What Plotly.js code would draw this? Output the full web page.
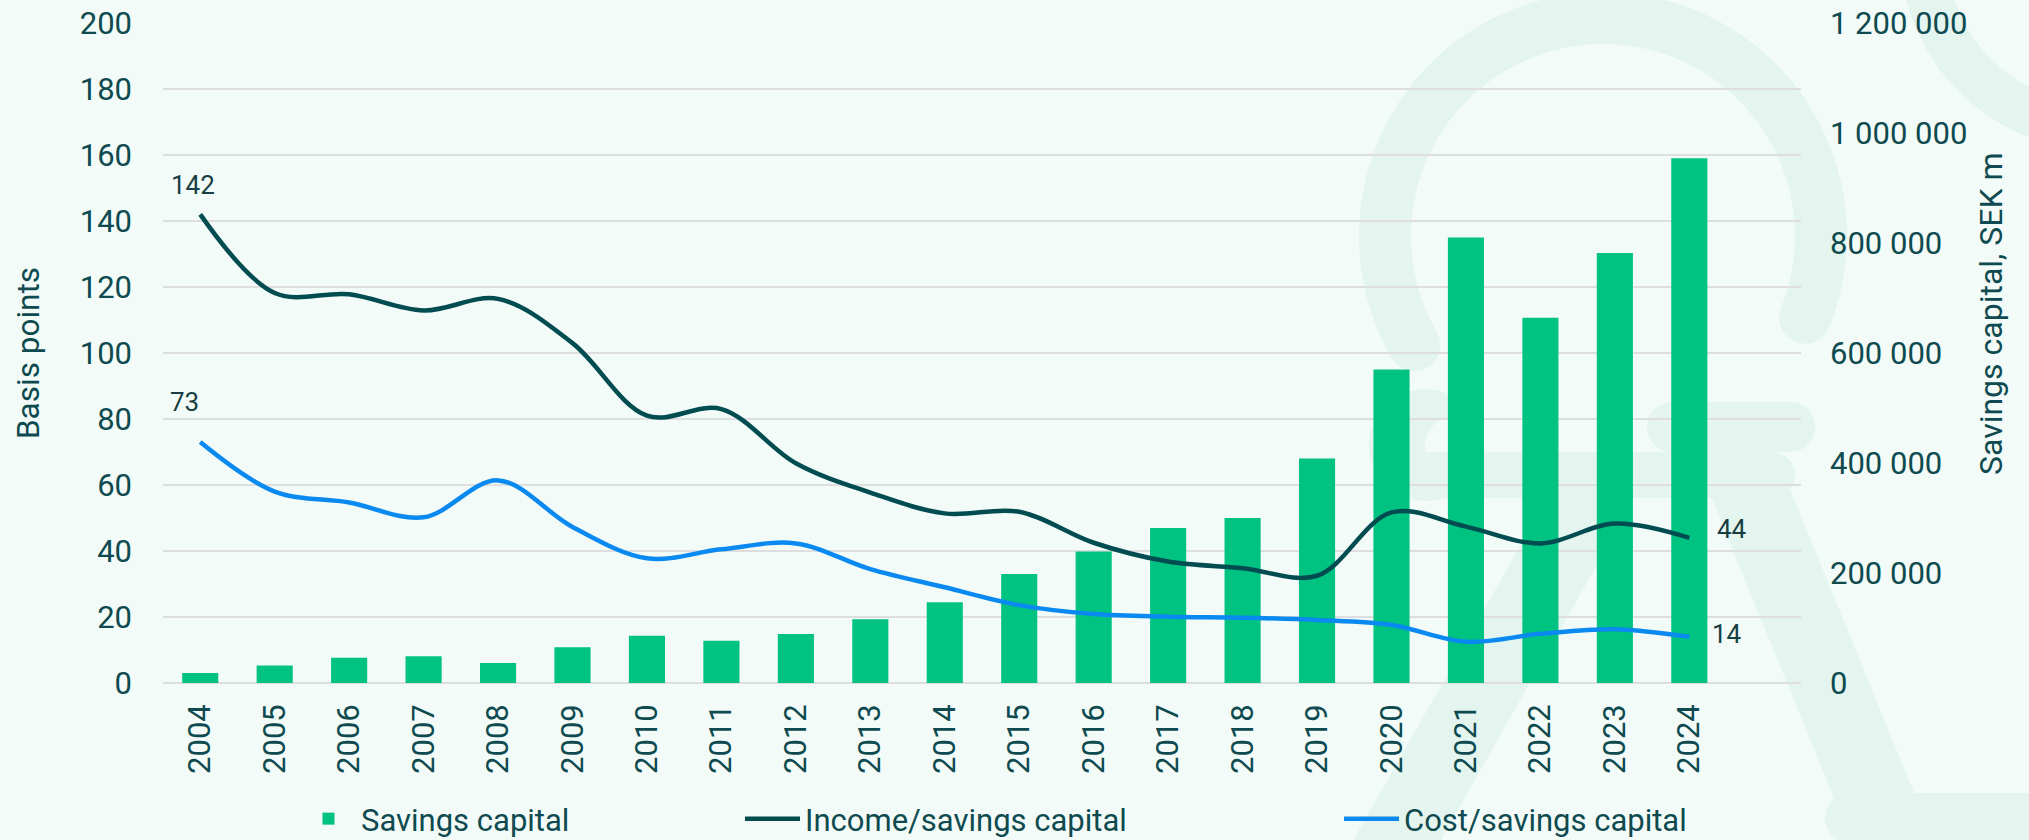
<!DOCTYPE html>
<html>
<head>
<meta charset="utf-8">
<script src="https://cdn.plot.ly/plotly-3.0.1.min.js"></script>
<style>
html,body{margin:0;padding:0;background:#f2fbf7;}
#chart{width:2029px;height:840px;}
</style>
</head>
<body>
<div id="chart"></div>
<script>
// ---- data ----
const years = ['2004','2005','2006','2007','2008','2009','2010','2011','2012','2013','2014',
               '2015','2016','2017','2018','2019','2020','2021','2022','2023','2024'];
const savingsCapital = [18000, 32000, 46000, 48500, 36500, 65000, 86000, 77000, 89000, 116000, 147000,
                        198000, 239000, 282000, 300000, 408000, 570000, 810000, 664000, 782000, 954000];
const incomeRatio = [142, 118.2, 117.8, 112.9, 116.4, 103, 81, 83, 66.6, 57.7, 51.4,
                     51.9, 42.5, 36.8, 34.8, 32.5, 51.7, 47.4, 42.3, 48.3, 44];
const costRatio = [73, 58, 54.7, 50.2, 61.4, 47.3, 37.8, 40.5, 42.3, 34.5, 29,
                   23.6, 20.9, 20.1, 19.8, 19.1, 17.6, 12.5, 14.9, 16.3, 14];
const leftTicks = [0, 20, 40, 60, 80, 100, 120, 140, 160, 180, 200];
const rightTicks = [0, 200000, 400000, 600000, 800000, 1000000, 1200000];
const seriesNames = ['Savings capital', 'Income/savings capital', 'Cost/savings capital'];
const leftTitle = 'Basis points';
const rightTitle = 'Savings capital, SEK m';

// ---- style ----
const FONT = 'Roboto, "Open Sans", sans-serif';
const TXT = '#0e4a4f';
const BG = '#f2fbf7';
const DECO = '#e3f5ee';

// plot area in pixels (for background decoration only)
const L = 163, R = 1801, T = 23, B = 683;
const W = R - L, H = B - T;
function pp(x, y) { return ((x - L) / W).toFixed(5) + ',' + ((B - y) / H).toFixed(5); }
function rad(d) { return d * Math.PI / 180; }
function thickArc(cx, cy, rIn, rOut, a0, a1) {
  const pts = [];
  const hw = (rOut - rIn) / 2, rm = (rIn + rOut) / 2;
  const n = 60;
  for (let i = 0; i <= n; i++) { const a = rad(a0 + (a1 - a0) * i / n); pts.push([cx + rOut * Math.cos(a), cy + rOut * Math.sin(a)]); }
  const e = rad(a1), ec = [cx + rm * Math.cos(e), cy + rm * Math.sin(e)];
  for (let s = 0; s <= 180; s += 10) { const f = e + rad(s); pts.push([ec[0] + hw * Math.cos(f), ec[1] + hw * Math.sin(f)]); }
  for (let i = n; i >= 0; i--) { const a = rad(a0 + (a1 - a0) * i / n); pts.push([cx + rIn * Math.cos(a), cy + rIn * Math.sin(a)]); }
  const b = rad(a0), bc = [cx + rm * Math.cos(b), cy + rm * Math.sin(b)];
  for (let s = 0; s <= 180; s += 10) { const f = b + Math.PI + rad(s); pts.push([bc[0] + hw * Math.cos(f), bc[1] + hw * Math.sin(f)]); }
  return 'M' + pts.map(p => pp(p[0], p[1])).join('L') + 'Z';
}
function thickLine(x0, y0, x1, y1, hw) {
  const ang = Math.atan2(y1 - y0, x1 - x0);
  const pts = [];
  for (let s = -90; s <= 90; s += 10) { const f = ang + rad(s); pts.push([x1 + hw * Math.cos(f), y1 + hw * Math.sin(f)]); }
  for (let s = 90; s <= 270; s += 10) { const f = ang + rad(s); pts.push([x0 + hw * Math.cos(f), y0 + hw * Math.sin(f)]); }
  return 'M' + pts.map(p => pp(p[0], p[1])).join('L') + 'Z';
}
function blob(cx, cy, r) { return thickArc(cx, cy, 0, r, 0, 359); }

const decoPaths = [
  thickArc(1603, 236, 192, 244, -210, 22),
  thickArc(2100, -50, 154, 200, 60, 200),
  blob(1425, 445, 56),
  thickLine(1433, 475, 1772, 475, 23),
  thickLine(1672, 427, 1790, 427, 25),
  thickLine(1735, 455, 1880, 810, 38),
  thickLine(1590, 500, 1380, 870, 38),
  thickLine(1850, 818, 2100, 818, 25)
];
const shapes = decoPaths.map(d => ({
  type: 'path', xref: 'paper', yref: 'paper', path: d, layer: 'below',
  fillcolor: DECO, line: { width: 0 }
}));

// ---- traces ----
const traces = [
  {
    type: 'bar', x: years, y: savingsCapital, name: seriesNames[0], yaxis: 'y',
    marker: { color: '#00c382' }, width: 0.485, legend: 'legend'
  },
  {
    type: 'scatter', mode: 'lines', x: years, y: incomeRatio, name: seriesNames[1], yaxis: 'y2',
    line: { color: '#004c51', width: 4.5, shape: 'spline', smoothing: 1 }, legend: 'legend2'
  },
  {
    type: 'scatter', mode: 'lines', x: years, y: costRatio, name: seriesNames[2], yaxis: 'y2',
    line: { color: '#0a8af0', width: 4.5, shape: 'spline', smoothing: 1 }, legend: 'legend3'
  }
];

const last = years.length - 1;
const labelFont = { family: FONT, size: 26, color: '#173e42' };
const annotations = [
  { x: 0, y: incomeRatio[0], xref: 'x', yref: 'y2', text: String(incomeRatio[0]), showarrow: false, xshift: -7, yshift: 29, font: labelFont },
  { x: 0, y: costRatio[0], xref: 'x', yref: 'y2', text: String(costRatio[0]), showarrow: false, xshift: -16, yshift: 40, font: labelFont },
  { x: last, y: incomeRatio[last], xref: 'x', yref: 'y2', text: String(incomeRatio[last]), showarrow: false, xshift: 43, yshift: 9, font: labelFont },
  { x: last, y: costRatio[last], xref: 'x', yref: 'y2', text: String(costRatio[last]), showarrow: false, xshift: 38, yshift: 3, font: labelFont },
  { x: (2012 - L) / W, y: (B - 314) / H, xref: 'paper', yref: 'paper', text: rightTitle, textangle: -90,
    showarrow: false, font: { family: FONT, size: 32, color: TXT } }
];

const tickFont = { family: FONT, size: 31, color: TXT };
const legFont = { family: FONT, size: 31, color: TXT };
function leg(textStart) {
  return { orientation: 'h', xref: 'container', yref: 'container', x: (textStart - 65) / 2029, y: 1 - 819 / 840,
           xanchor: 'left', yanchor: 'middle', font: legFont, bgcolor: 'rgba(0,0,0,0)', itemwidth: 55 };
}

const layout = {
  width: 2029, height: 840,
  paper_bgcolor: BG, plot_bgcolor: 'rgba(0,0,0,0)',
  margin: { l: L, r: 2029 - R, t: T, b: 840 - B, pad: 0 },
  separators: ', ',
  font: { family: FONT, color: TXT },
  xaxis: {
    type: 'category', range: [-0.5, 21.5], tickangle: -90, tickfont: tickFont,
    showgrid: false, zeroline: false, showline: false, ticks: '', ticklabelstandoff: 14,
    fixedrange: true, automargin: false
  },
  yaxis: {
    side: 'right', range: [0, 1200000], tickvals: rightTicks, tickformat: ',d',
    showgrid: false, zeroline: false, showline: false, ticks: '', tickfont: tickFont,
    ticklabelstandoff: 28, automargin: false, fixedrange: true
  },
  yaxis2: {
    overlaying: 'y', side: 'left', range: [0, 200], tickvals: leftTicks,
    showgrid: true, gridcolor: '#dedede', gridwidth: 1.5,
    zeroline: true, zerolinecolor: '#dedede', zerolinewidth: 1.5,
    showline: false, ticks: '', tickfont: tickFont, ticklabelstandoff: 30,
    title: { text: leftTitle, font: { family: FONT, size: 31.5, color: TXT }, standoff: 30 },
    automargin: false, fixedrange: true
  },
  showlegend: true,
  legend: leg(361),
  legend2: leg(805),
  legend3: leg(1404),
  shapes: shapes,
  annotations: annotations
};

Plotly.newPlot('chart', traces, layout, { displayModeBar: false, staticPlot: true });
</script>
</body>
</html>
